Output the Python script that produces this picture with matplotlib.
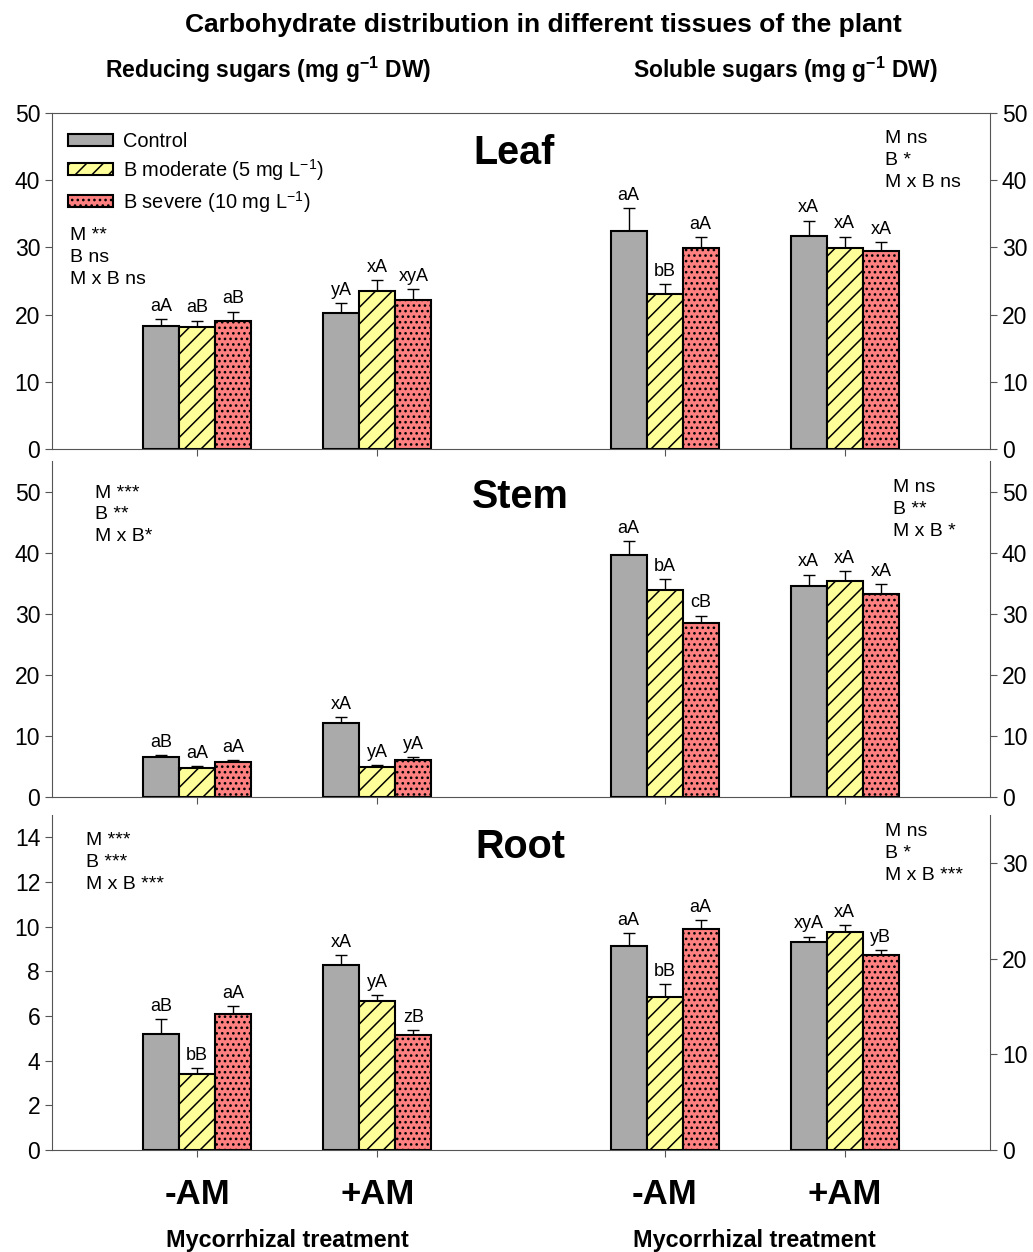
import matplotlib
matplotlib.use("Agg")
import matplotlib.pyplot as plt
from matplotlib.patches import Patch
import numpy as np

plt.rcParams['font.family'] = ['Liberation Sans', 'DejaVu Sans']
plt.rcParams['mathtext.fontset'] = 'custom'
plt.rcParams['mathtext.rm'] = 'Liberation Sans'
plt.rcParams['mathtext.bf'] = 'Liberation Sans:bold'
plt.rcParams['hatch.linewidth'] = 1.1

# data: rows = -AM, +AM ; columns = Control, B moderate, B severe
groups = ['-AM', '+AM']
treatments = ['Control', 'B moderate (5 mg L$^{-1}$)', 'B severe (10 mg L$^{-1}$)']

leaf_red = [[18.3, 18.1, 19.1], [20.3, 23.5, 22.2]]
leaf_red_err = [[1.0, 1.0, 1.35], [1.4, 1.6, 1.6]]
leaf_red_let = [['aA', 'aB', 'aB'], ['yA', 'xA', 'xyA']]
leaf_sol = [[32.4, 23.0, 29.9], [31.7, 29.9, 29.4]]
leaf_sol_err = [[3.4, 1.6, 1.6], [2.3, 1.7, 1.4]]
leaf_sol_let = [['aA', 'bB', 'aA'], ['xA', 'xA', 'xA']]

stem_red = [[6.5, 4.8, 5.8], [12.1, 4.9, 6.1]]
stem_red_err = [[0.35, 0.2, 0.3], [1.0, 0.35, 0.4]]
stem_red_let = [['aB', 'aA', 'aA'], ['xA', 'yA', 'yA']]
stem_sol = [[39.6, 33.9, 28.5], [34.5, 35.4, 33.2]]
stem_sol_err = [[2.3, 1.8, 1.2], [1.9, 1.6, 1.6]]
stem_sol_let = [['aA', 'bA', 'cB'], ['xA', 'xA', 'xA']]

root_red = [[5.19, 3.39, 6.07], [8.27, 6.65, 5.14]]
root_red_err = [[0.66, 0.27, 0.37], [0.46, 0.27, 0.24]]
root_red_let = [['aB', 'bB', 'aA'], ['xA', 'yA', 'zB']]
root_sol = [[21.3, 16.0, 23.1], [21.7, 22.8, 20.35]]
root_sol_err = [[1.39, 1.36, 0.94], [0.6, 0.73, 0.52]]
root_sol_let = [['aA', 'bB', 'aA'], ['xyA', 'xA', 'yB']]

stats_leaf = ['M **\nB ns\nM x B ns', 'M ns\nB *\nM x B ns']
stats_stem = ['M ***\nB **\nM x B*', 'M ns\nB **\nM x B *']
stats_root = ['M ***\nB ***\nM x B ***', 'M ns\nB *\nM x B ***']

colors = ['#AAAAAA', '#FFFF99', '#FF8080']
hatches = ['', '//', '...']

left_pos = np.array([0.0, 1.0])
right_pos = np.array([2.594, 3.594])
width = 0.2

fig = plt.figure(figsize=(10.33, 12.52), dpi=100)
W, H = 1033, 1252


def add_panel(top, bottom):
    return fig.add_axes([52 / W, 1 - bottom / H, 938 / W, (bottom - top) / H])


def draw_bars(ax, pos, means, errs, letters):
    for j in range(3):
        x = pos + (j - 1) * width
        m = [means[g][j] for g in range(2)]
        e = [errs[g][j] for g in range(2)]
        ax.bar(x, m, width, color=colors[j], hatch=hatches[j], edgecolor='black',
               linewidth=1.5, zorder=2)
        ax.errorbar(x, m, yerr=[np.zeros(2), e], fmt='none', ecolor='black',
                    elinewidth=1, capsize=4.5, capthick=1, zorder=1)
        for g in range(2):
            ax.annotate(letters[g][j], (x[g], m[g] + e[g]), xytext=(0, 3),
                        textcoords='offset points', ha='center', va='bottom', fontsize=13)


def style(ax, ax2, ylim, yticks, ylim2, yticks2, top_spine=False, xlabels=False):
    ax.set_xlim(-0.806, 4.4)
    ax.set_ylim(*ylim)
    ax.set_yticks(yticks)
    ax2.set_ylim(*ylim2)
    ax2.set_yticks(yticks2)
    for s in ['left', 'bottom', 'top', 'right']:
        ax.spines[s].set_color('#555555')
        ax2.spines[s].set_color('#555555')
    ax.spines['right'].set_visible(False)
    ax.spines['top'].set_visible(top_spine)
    ax2.spines['left'].set_visible(False)
    ax2.spines['bottom'].set_visible(False)
    ax2.spines['top'].set_visible(False)
    ax.tick_params(axis='both', direction='out', length=5, color='#555555', labelsize=16.5)
    ax2.tick_params(axis='y', direction='out', length=5, color='#555555', labelsize=16.5)
    ax.set_xticks(np.concatenate([left_pos, right_pos]))
    if xlabels:
        ax.set_xticklabels(groups + groups, fontsize=25, fontweight='bold')
        ax.tick_params(axis='x', pad=15)
    else:
        ax.set_xticklabels([])


def panel(top, bottom, name, red, red_e, red_l, sol, sol_e, sol_l, stats,
          name_xy, stat_l, stat_r, **kw):
    ax = add_panel(top, bottom)
    ax2 = ax.twinx()
    draw_bars(ax, left_pos, red, red_e, red_l)
    draw_bars(ax2, right_pos, sol, sol_e, sol_l)
    style(ax, ax2, **kw)
    ax.text(name_xy[0], name_xy[1], name, transform=ax.transAxes, ha='center',
            va='center', fontsize=28.5, fontweight='bold')
    ax.text(stat_l[0], stat_l[1], stats[0], transform=ax.transAxes, ha='left',
            va='top', fontsize=14, linespacing=1.38)
    ax.text(stat_r[0], stat_r[1], stats[1], transform=ax.transAxes, ha='left',
            va='top', fontsize=14, linespacing=1.38)
    return ax


ax_leaf = panel(113, 449, 'Leaf', leaf_red, leaf_red_err, leaf_red_let,
                leaf_sol, leaf_sol_err, leaf_sol_let, stats_leaf,
                (0.4925, 0.881), (0.019, 0.66), (0.888, 0.95),
                ylim=(0, 50), yticks=range(0, 51, 10), ylim2=(0, 50),
                yticks2=range(0, 51, 10), top_spine=True)
panel(461, 797, 'Stem', stem_red, stem_red_err, stem_red_let,
      stem_sol, stem_sol_err, stem_sol_let, stats_stem,
      (0.499, 0.893), (0.046, 0.93), (0.897, 0.945),
      ylim=(0, 55), yticks=range(0, 51, 10), ylim2=(0, 55), yticks2=range(0, 51, 10))
panel(815, 1150, 'Root', root_red, root_red_err, root_red_let,
      root_sol, root_sol_err, root_sol_let, stats_root,
      (0.499, 0.904), (0.036, 0.95), (0.888, 0.975),
      ylim=(0, 15), yticks=range(0, 15, 2), ylim2=(0, 35), yticks2=range(0, 31, 10),
      xlabels=True)

handles = [Patch(facecolor=colors[j], hatch=hatches[j], edgecolor='black', linewidth=1.5)
           for j in range(3)]
ax_leaf.legend(handles, treatments, loc='upper left', bbox_to_anchor=(0.004, 0.98),
               frameon=False, fontsize=14.4, handlelength=2.25, handleheight=0.55,
               labelspacing=0.3, handletextpad=0.5, borderaxespad=0.2)

fig.text(543 / W, 1 - 25 / H, 'Carbohydrate distribution in different tissues of the plant',
         ha='center', va='center', fontsize=19, fontweight='bold')
fig.text(268 / W, 1 - 70 / H, r'Reducing sugars (mg g$^{\mathbf{-1}}$ DW)',
         ha='center', va='center', fontsize=16.5, fontweight='bold')
fig.text(785 / W, 1 - 70 / H, r'Soluble sugars (mg g$^{\mathbf{-1}}$ DW)',
         ha='center', va='center', fontsize=16.5, fontweight='bold')
for cx in [287, 754]:
    fig.text(cx / W, 1 - 1240 / H, 'Mycorrhizal treatment', ha='center', va='center',
             fontsize=16.8, fontweight='bold')

fig.savefig('out.png', dpi=100)
